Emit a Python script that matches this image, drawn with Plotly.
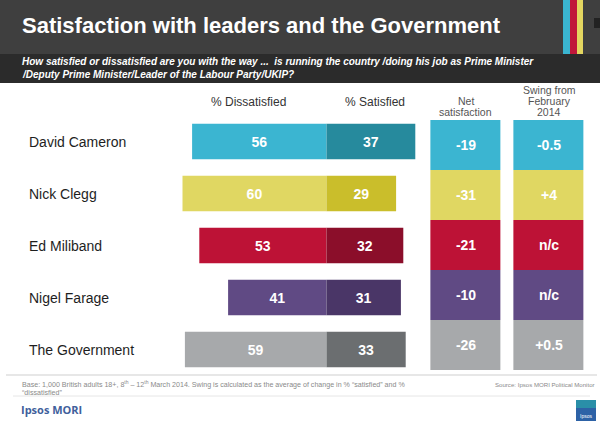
import plotly.graph_objects as go

# ---------------- data ----------------
names = ["David Cameron", "Nick Clegg", "Ed Miliband", "Nigel Farage", "The Government"]
dissatisfied = [56, 60, 53, 41, 59]
satisfied = [37, 29, 32, 31, 33]
net_satisfaction = [-19, -31, -21, -10, -26]
swing_labels = ["-0.5", "+4", "n/c", "n/c", "+0.5"]
tile_columns = ["Net satisfaction", "Swing from February 2014"]

# ---------------- styles ----------------
light_cols = ["#3bb5d1", "#e0d762", "#bd1236", "#604a84", "#a7a9ab"]
dark_cols = ["#268a9d", "#cabe2b", "#8b0e2a", "#4a3667", "#6b6e70"]
FONT = "Liberation Sans, Arial, Helvetica, sans-serif"
W, H = 600, 426


def px(x):
    return x / W


def py(y):
    return 1 - y / H


# pixel geometry used to set axis ranges
DIV_PX, SCALE = 326.5, 2.4          # bar split position, px per percentage point
BAR_TOP_C, BAR_STEP = 141.5, 52.0   # row centres for the bars
TILE_TOP_C, TILE_STEP = 145.0, 50.0
TILE_X_C, TILE_X_STEP = 465.85, 83.0

fig = go.Figure()

fig.add_trace(go.Bar(
    y=names, x=[-v for v in dissatisfied], orientation="h",
    text=[str(v) for v in dissatisfied], texttemplate="%{text}",
    textposition="inside", insidetextanchor="middle", textangle=0,
    textfont=dict(color="white", size=14, family=FONT, weight="bold"),
    marker=dict(color=light_cols, line=dict(width=0)),
    width=0.68, hoverinfo="skip", xaxis="x", yaxis="y",
))
fig.add_trace(go.Bar(
    y=names, x=satisfied, orientation="h",
    text=[str(v) for v in satisfied], texttemplate="%{text}",
    textposition="inside", insidetextanchor="middle", textangle=0,
    textfont=dict(color="white", size=14, family=FONT, weight="bold"),
    marker=dict(color=dark_cols, line=dict(width=0)),
    width=0.68, hoverinfo="skip", xaxis="x", yaxis="y",
))

# tiles (net satisfaction / swing)
n = len(names)
z = [[i, i] for i in range(n)]
tile_text = [[str(net_satisfaction[i]), swing_labels[i]] for i in range(n)]
cs = []
for i, c in enumerate(light_cols):
    a = max(0.0, (i - 0.5) / (n - 1))
    b = min(1.0, (i + 0.5) / (n - 1))
    cs += [[a, c], [b, c]]
fig.add_trace(go.Heatmap(
    z=z, x=tile_columns, y=names, text=tile_text, texttemplate="%{text}",
    textfont=dict(color="white", size=14, family=FONT, weight="bold"),
    colorscale=cs, zmin=0, zmax=n - 1, showscale=False, xgap=13, ygap=0,
    hoverinfo="skip", xaxis="x2", yaxis="y2",
))

hidden = dict(visible=False, showgrid=False, zeroline=False, fixedrange=True)
fig.update_layout(
    width=W, height=H, margin=dict(l=0, r=0, t=0, b=0),
    paper_bgcolor="white", plot_bgcolor="rgba(0,0,0,0)",
    barmode="relative", showlegend=False,
    xaxis=dict(range=[-DIV_PX / SCALE, (W - DIV_PX) / SCALE], domain=[0, 1], **hidden),
    yaxis=dict(type="category", categoryorder="array", categoryarray=names,
               range=[(H - BAR_TOP_C) / BAR_STEP, (0 - BAR_TOP_C) / BAR_STEP],
               domain=[0, 1], **hidden),
    xaxis2=dict(type="category", categoryorder="array", categoryarray=tile_columns,
                range=[(0 - TILE_X_C) / TILE_X_STEP, (W - TILE_X_C) / TILE_X_STEP],
                overlaying="x", anchor="y2", **hidden),
    yaxis2=dict(type="category", categoryorder="array", categoryarray=names,
                range=[(H - TILE_TOP_C) / TILE_STEP, (0 - TILE_TOP_C) / TILE_STEP],
                overlaying="y", anchor="x2", **hidden),
    font=dict(family=FONT),
)

shapes = []


def rect(x0, y0, x1, y1, color, layer="below"):
    shapes.append(dict(type="rect", xref="paper", yref="paper",
                       x0=px(x0), x1=px(x1), y0=py(y1), y1=py(y0),
                       fillcolor=color, line=dict(width=0), layer=layer))


def hline(x0, x1, y, color, w=1):
    shapes.append(dict(type="line", xref="paper", yref="paper",
                       x0=px(x0), x1=px(x1), y0=py(y), y1=py(y),
                       line=dict(color=color, width=w)))


rect(0, 0, 600, 54, "#3f3f3f")
rect(0, 54, 600, 83, "#2b2b2b")
rect(563, 0, 570, 54, "#3ab5d0", "above")
rect(570, 0, 577, 54, "#c0173a", "above")
rect(577, 0, 583, 54, "#e3d660", "above")
rect(594, 18, 600, 28, "#222222", "above")
hline(6, 597, 375, "#cfcfcf", 1)
hline(13, 590, 396, "#e6e6e6", 1)
rect(576, 400, 596, 421, "#2d62a6", "above")
rect(576, 400, 596, 408, "#2a8fa8", "above")
fig.update_layout(shapes=shapes)

ann = []


def text(x, y, s, size, color, anchor="left", bold=False, italic=False, family=FONT):
    ann.append(dict(xref="paper", yref="paper", x=px(x), y=py(y), text=s,
                    showarrow=False, xanchor=anchor, yanchor="middle",
                    font=dict(size=size, color=color, family=family,
                              weight="bold" if bold else "normal",
                              style="italic" if italic else "normal")))


text(20, 26, "Satisfaction with leaders and the Government", 22, "white", bold=True)
text(20, 62, "How satisfied or dissatisfied are you with the way ...  is running the country /doing his job as Prime Minister",
     10, "white", bold=True, italic=True)
text(20, 74, "/Deputy Prime Minister/Leader of the Labour Party/UKIP?", 10, "white", bold=True, italic=True)

text(248, 102, "% Dissatisfied", 12, "#333333", anchor="center")
text(375, 102, "% Satisfied", 12, "#333333", anchor="center")
text(466, 101, "Net", 10.5, "#555555", anchor="center")
text(466, 112, "satisfaction", 10.5, "#555555", anchor="center")
text(549, 90, "Swing from", 10.5, "#555555", anchor="center")
text(549, 101, "February", 10.5, "#555555", anchor="center")
text(549, 112, "2014", 10.5, "#555555", anchor="center")

for nm in names:
    ann.append(dict(xref="paper", yref="y", x=px(27), y=nm, text=nm, showarrow=False,
                    xanchor="left", yanchor="middle",
                    font=dict(size=14, color="#1e1e1e", family=FONT)))

text(20, 384, "Base: 1,000 British adults 18+, 8<sup>th</sup> \u2013 12<sup>th</sup> March 2014. Swing is calculated as the average of change in % \u201csatisfied\u201d and %",
     7.1, "#8a8a8a")
text(20, 393, "\u201cdissatisfied\u201d", 7.1, "#8a8a8a")
text(597, 384, "Source: Ipsos MORI Political Monitor", 6.1, "#8a8a8a", anchor="right")
text(19, 409, "Ipsos MORI", 11, "#41609c", bold=True, family="Open Sans, Liberation Sans, sans-serif")
text(586, 416, "Ipsos", 5, "white", anchor="center")
fig.update_layout(annotations=ann)

fig.write_html("out.html")
